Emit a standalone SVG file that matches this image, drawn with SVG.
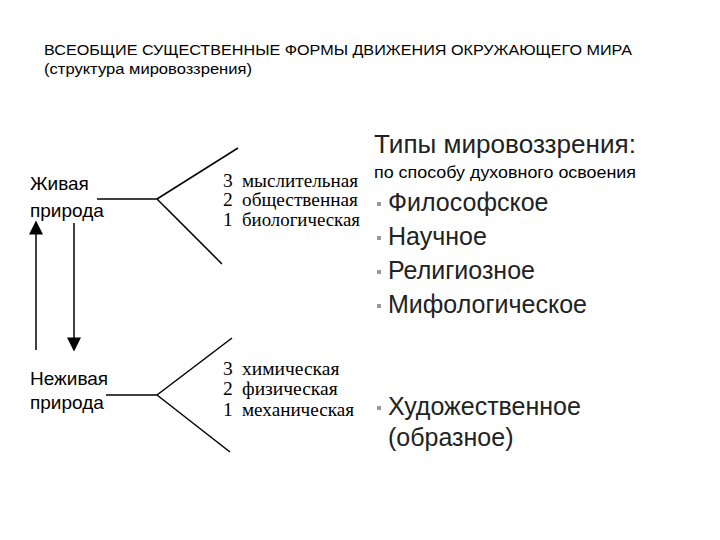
<svg xmlns="http://www.w3.org/2000/svg" width="720" height="540" viewBox="0 0 720 540">
<style>
.s{font-family:"Liberation Sans",Arial,sans-serif;fill:#000}
.t{font-family:"Liberation Serif","Times New Roman",serif;font-size:19.5px;fill:#000}
.r{font-family:"Liberation Sans",Arial,sans-serif;font-size:25px;fill:#222}
.b{fill:#999}
line{stroke:#000;stroke-width:1.5}
</style>
<defs><marker id="a" viewBox="0 0 10 10" refX="9" refY="5" markerWidth="15" markerHeight="14" markerUnits="userSpaceOnUse" orient="auto"><path d="M0,0L10,5L0,10z" fill="#000"/></marker></defs>
<rect width="720" height="540" fill="#fff"/>
<text class="s" x="44" y="55" font-size="14" textLength="588" lengthAdjust="spacingAndGlyphs">ВСЕОБЩИЕ СУЩЕСТВЕННЫЕ ФОРМЫ ДВИЖЕНИЯ ОКРУЖАЮЩЕГО  МИРА</text>
<text class="s" x="44" y="74" font-size="14" textLength="208" lengthAdjust="spacingAndGlyphs">(структура мировоззрения)</text>
<g id="living"><text class="s" x="30" y="190" font-size="19">Живая</text><text class="s" x="30" y="217" font-size="19">природа</text></g>
<g id="nonliving"><text class="s" x="30" y="385" font-size="19">Неживая</text><text class="s" x="30" y="409" font-size="19">природа</text></g>
<g id="living-forms">
<text class="t" x="223" y="187">3</text><text class="t" x="242" y="187" textLength="116" lengthAdjust="spacingAndGlyphs">мыслительная</text>
<text class="t" x="223" y="206">2</text><text class="t" x="242" y="206" textLength="116" lengthAdjust="spacingAndGlyphs">общественная</text>
<text class="t" x="223" y="226">1</text><text class="t" x="242" y="226" textLength="118" lengthAdjust="spacingAndGlyphs">биологическая</text></g>
<g id="nonliving-forms">
<text class="t" x="223" y="375">3</text><text class="t" x="242" y="375">химическая</text>
<text class="t" x="223" y="395">2</text><text class="t" x="242" y="395">физическая</text>
<text class="t" x="223" y="416">1</text><text class="t" x="242" y="416" textLength="112" lengthAdjust="spacingAndGlyphs">механическая</text></g>
<g id="connectors">
<line x1="97" y1="199" x2="157" y2="199"/><line x1="157" y1="199" x2="238" y2="148"/><line x1="157" y1="199" x2="222" y2="264"/>
<line x1="106" y1="395" x2="157" y2="395"/><line x1="157" y1="395" x2="232" y2="338"/><line x1="157" y1="395" x2="230" y2="452"/>
<line x1="36" y1="350" x2="36" y2="222" marker-end="url(#a)"/>
<line x1="74" y1="223" x2="74" y2="350" marker-end="url(#a)"/>
</g>
<g id="types">
<text class="r" x="374" y="153" font-size="26" textLength="262" lengthAdjust="spacingAndGlyphs">Типы мировоззрения:</text>
<text class="s" x="374" y="178" font-size="16" fill="#222" textLength="262" lengthAdjust="spacingAndGlyphs">по способу духовного освоения</text>
<rect class="b" x="377" y="202" width="4" height="4"/><text class="r" x="388" y="211">Философское</text>
<rect class="b" x="377" y="236" width="4" height="4"/><text class="r" x="388" y="245">Научное</text>
<rect class="b" x="377" y="270" width="4" height="4"/><text class="r" x="388" y="279">Религиозное</text>
<rect class="b" x="377" y="304" width="4" height="4"/><text class="r" x="388" y="313">Мифологическое</text>
<rect class="b" x="377" y="406" width="4" height="4"/><text class="r" x="388" y="415">Художественное</text>
<text class="r" x="388" y="446">(образное)</text>
</g>
</svg>
